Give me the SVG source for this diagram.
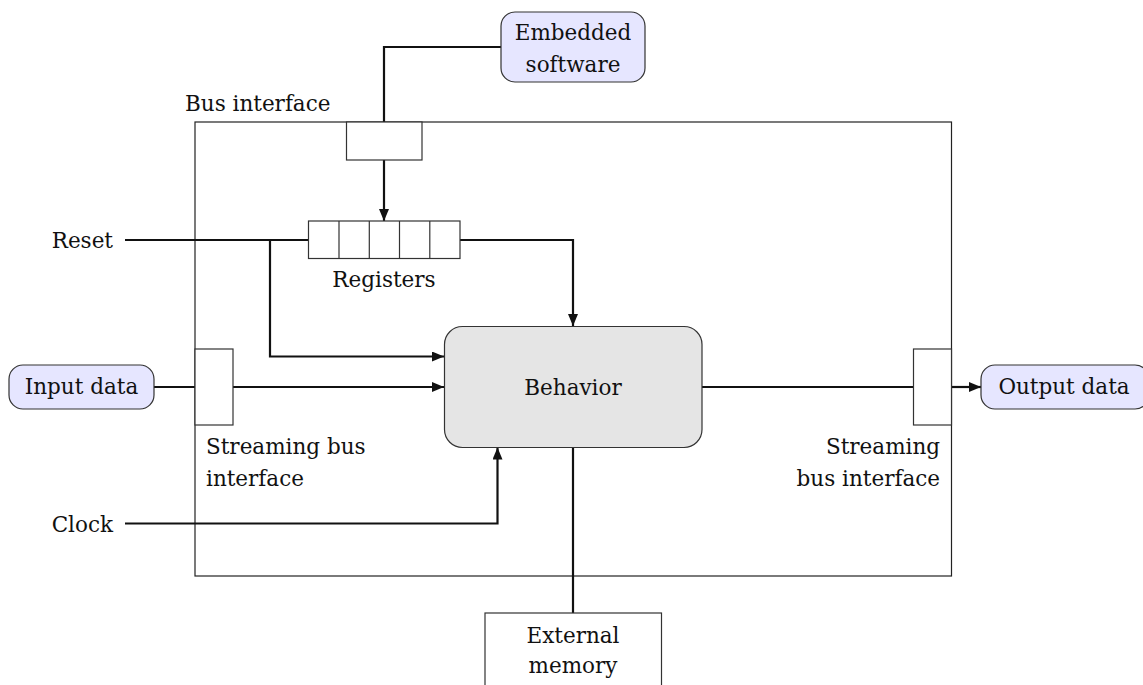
<svg xmlns="http://www.w3.org/2000/svg" width="1143" height="685" viewBox="0 0 1143 685">
<style>
text{font-family:"DejaVu Serif","Liberation Serif",serif;font-size:21.5px;fill:#111}
.c{text-anchor:middle}
.r{text-anchor:end}
.frame{fill:none;stroke:#222;stroke-width:1.2}
.port{fill:#fff;stroke:#333;stroke-width:1.2}
.term{fill:#e6e6ff;stroke:#333;stroke-width:1.2}
.beh{fill:#e5e5e5;stroke:#333;stroke-width:1.2}
.w{fill:none;stroke:#111;stroke-width:2.2}
</style>
<defs>
<marker id="ah" viewBox="0 0 12 10" refX="12" refY="5" markerWidth="12" markerHeight="10" markerUnits="userSpaceOnUse" orient="auto">
<path d="M0,0 L12,5 L0,10 z" fill="#111"/>
</marker>
</defs>
<rect width="1143" height="685" fill="#fff"/>
<g id="frame">
<rect class="frame" x="195" y="122" width="756.5" height="454"/>
<text x="185" y="111">Bus interface</text>
</g>
<g id="connectors">
<polyline class="w" points="501,47 384,47 384,122"/>
<line class="w" x1="384" y1="160" x2="384" y2="221" marker-end="url(#ah)"/>
<line class="w" x1="125" y1="240" x2="308" y2="240"/>
<polyline class="w" points="270,240 270,356.5 444,356.5" marker-end="url(#ah)"/>
<polyline class="w" points="460,240 573,240 573,326" marker-end="url(#ah)"/>
<line class="w" x1="154" y1="387" x2="195" y2="387"/>
<line class="w" x1="233" y1="387" x2="444" y2="387" marker-end="url(#ah)"/>
<polyline class="w" points="125,523.5 497.5,523.5 497.5,447.5" marker-end="url(#ah)"/>
<line class="w" x1="573" y1="447.5" x2="573" y2="613"/>
<line class="w" x1="702" y1="387" x2="913.5" y2="387"/>
<line class="w" x1="951.5" y1="387" x2="981" y2="387" marker-end="url(#ah)"/>
</g>
<g id="embedded-software">
<rect class="term" x="501" y="12" width="144" height="70" rx="14"/>
<text class="c" x="573" y="40">Embedded</text>
<text class="c" x="573" y="72">software</text>
</g>
<g id="bus-interface-port">
<rect class="port" x="346.5" y="122" width="75.5" height="38"/>
</g>
<g id="registers">
<rect class="port" x="308.5" y="221" width="151.5" height="37.5"/>
<path d="M339,221V258.5M369.3,221V258.5M399.5,221V258.5M429.8,221V258.5" stroke="#333" stroke-width="1.2" fill="none"/>
<text class="c" x="384" y="287">Registers</text>
</g>
<g id="reset">
<text class="r" x="113" y="248">Reset</text>
</g>
<g id="clock">
<text class="r" x="113" y="532">Clock</text>
</g>
<g id="input-data">
<rect class="term" x="9" y="365" width="145" height="44" rx="14"/>
<text class="c" x="81.5" y="393.5">Input data</text>
</g>
<g id="input-port">
<rect class="port" x="195" y="349" width="38" height="76"/>
<text x="206" y="454">Streaming bus</text>
<text x="206" y="486">interface</text>
</g>
<g id="behavior">
<rect class="beh" x="444.5" y="326.5" width="257.5" height="121" rx="18"/>
<text class="c" x="573" y="395">Behavior</text>
</g>
<g id="output-port">
<rect class="port" x="913.5" y="349" width="38" height="76"/>
<text class="r" x="940" y="454">Streaming</text>
<text class="r" x="940" y="486">bus interface</text>
</g>
<g id="output-data">
<rect class="term" x="981" y="365" width="168" height="44" rx="14"/>
<text class="c" x="1064" y="393.5">Output data</text>
</g>
<g id="external-memory">
<rect class="port" x="485" y="613" width="176.5" height="80"/>
<text class="c" x="573" y="643">External</text>
<text class="c" x="573" y="673">memory</text>
</g>
</svg>
